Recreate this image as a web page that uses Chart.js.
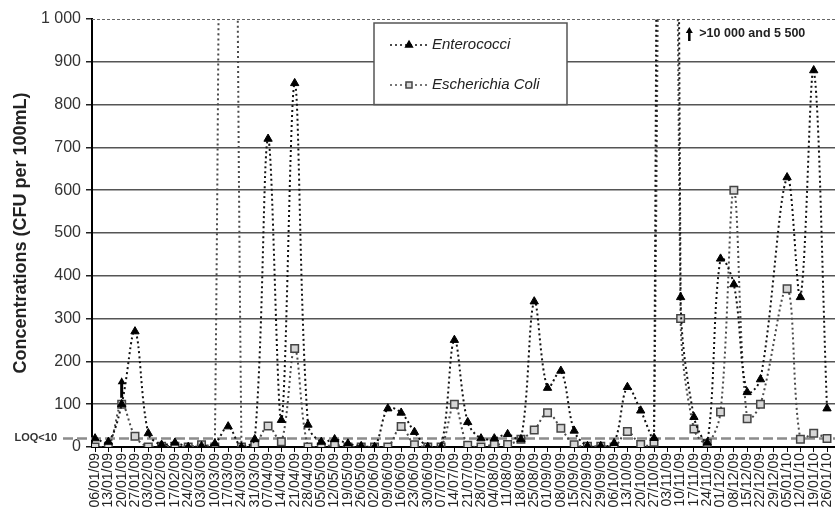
<!DOCTYPE html>
<html>
<head>
<meta charset="utf-8">
<title>Enterococci / Escherichia Coli</title>
<script src="https://cdn.jsdelivr.net/npm/chart.js@4.4.1/dist/chart.umd.min.js"></script>
<style>
	html, body { margin: 0; padding: 0; background: #fff; }
	#wrap { position: relative; width: 835px; height: 514px; }
</style>
</head>
<body>
<div id="wrap"><canvas id="chart"></canvas></div>
<script>
var sampleDates = ['06/01/09', '13/01/09', '20/01/09', '27/01/09', '03/02/09', '10/02/09', '17/02/09', '24/02/09',
	'03/03/09', '10/03/09', '17/03/09', '24/03/09', '31/03/09', '07/04/09', '14/04/09', '21/04/09', '28/04/09',
	'05/05/09', '12/05/09', '19/05/09', '26/05/09', '02/06/09', '09/06/09', '16/06/09', '23/06/09', '30/06/09',
	'07/07/09', '14/07/09', '21/07/09', '28/07/09', '04/08/09', '11/08/09', '18/08/09', '25/08/09', '01/09/09',
	'08/09/09', '15/09/09', '22/09/09', '29/09/09', '06/10/09', '13/10/09', '20/10/09', '27/10/09', '03/11/09',
	'10/11/09', '17/11/09', '24/11/09', '01/12/09', '08/12/09', '15/12/09', '22/12/09', '29/12/09', '05/01/10',
	'12/01/10', '19/01/10', '26/01/10'];

var enterococci = [20, 12, 100, 270, 32, 5, 10, 0,
	2, 8, 48, 0, 18, 720, 63, 850, 52,
	12, 18, 8, 2, 0, 90, 80, 35, 0,
	0, 250, 58, 20, 20, 30, 18, 340, 138,
	178, 38, 2, 2, 9, 140, 85, 21, 10000,
	350, 70, 10, 440, 380, 128, 158, null, 630,
	350, 880, 90];

var escherichiaColi = [0, 0, 100, 25, 0, 2, 2, 0,
	5, 0, 5500, 0, 5, 49, 12, 230, 0,
	0, 5, 0, 0, 0, 0, 48, 5, 0,
	0, 100, 4, 0, 6, 6, 18, 40, 80,
	44, 5, 2, 2, 0, 36, 6, 11, 5500,
	300, 42, 9, 82, 600, 66, 100, null, 370,
	18, 32, 20];

var yTickLabels = ['0', '100', '200', '300', '400', '500', '600', '700', '800', '900', '1 000'];

var loqValue = 20;
var loqLabel = 'LOQ<10';

// values given as "greater than" : small up arrows
var arrowDates = ['20/01/09'];
var arrowFrom = [115];
var arrowTo = [163];

var offScaleDate = '03/11/09';
var offScaleNote = '>10 000 and 5 500';

var FONT = '"Liberation Sans", Arial, sans-serif';

function toPoints(values) {
	return values.map(function (v, i) { return { x: i, y: v }; });
}

function drawUpArrow(ctx, x, yTop, yBottom, shaftW, headW, headH) {
	ctx.save();
	ctx.fillStyle = '#000';
	ctx.fillRect(x - shaftW / 2, yTop + headH - 1, shaftW, yBottom - yTop - headH + 1);
	ctx.beginPath();
	ctx.moveTo(x, yTop);
	ctx.lineTo(x - headW / 2, yTop + headH);
	ctx.lineTo(x + headW / 2, yTop + headH);
	ctx.closePath();
	ctx.fill();
	ctx.restore();
}

/*************************************
*              Extras                *
*************************************/
var extras = {
	id: 'extras',
	beforeDatasetsDraw: function (chart) {
		var ctx = chart.ctx;
		var area = chart.chartArea;
		var y = chart.scales.y;

		ctx.save();
		// dashed top border
		ctx.strokeStyle = '#666';
		ctx.lineWidth = 1;
		ctx.setLineDash([3, 2]);
		ctx.beginPath();
		ctx.moveTo(area.left, area.top + 0.5);
		ctx.lineTo(area.right, area.top + 0.5);
		ctx.stroke();

		// LOQ line
		var ly = y.getPixelForValue(loqValue);
		ctx.strokeStyle = '#8c8c8c';
		ctx.lineWidth = 2.5;
		ctx.setLineDash([10, 4]);
		ctx.beginPath();
		ctx.moveTo(63, ly);
		ctx.lineTo(area.right, ly);
		ctx.stroke();
		ctx.setLineDash([]);

		ctx.fillStyle = '#333';
		ctx.font = 'bold 11px ' + FONT;
		ctx.textAlign = 'right';
		ctx.textBaseline = 'middle';
		ctx.fillText(loqLabel, 57, ly);
		ctx.restore();
	},
	afterDatasetsDraw: function (chart) {
		var ctx = chart.ctx;
		var x = chart.scales.x;
		var y = chart.scales.y;

		for (var i = 0; i < arrowDates.length; i++) {
			var ax = x.getPixelForValue(sampleDates.indexOf(arrowDates[i]));
			drawUpArrow(ctx, ax, y.getPixelForValue(arrowTo[i]), y.getPixelForValue(arrowFrom[i]), 3, 8, 7);
		}

		// note for off-scale values
		var nx = x.getPixelForValue(sampleDates.indexOf(offScaleDate)) + 22;
		drawUpArrow(ctx, nx, 27, 41, 2.5, 7, 6);
		ctx.save();
		ctx.fillStyle = '#222';
		ctx.font = 'bold 12.5px ' + FONT;
		ctx.textAlign = 'left';
		ctx.textBaseline = 'middle';
		ctx.fillText(offScaleNote, nx + 10, 34);
		ctx.restore();

		// legend box
		var top = 23, left = 374, right = 567, bottom = y.getPixelForValue(800);
		ctx.save();
		ctx.fillStyle = '#fff';
		ctx.fillRect(left, top, right - left, bottom - top);
		ctx.strokeStyle = '#555';
		ctx.lineWidth = 1.5;
		ctx.strokeRect(left, top, right - left, bottom - top);

		var rows = [45, 85];
		chart.data.datasets.forEach(function (ds, k) {
			var ry = rows[k];
			ctx.strokeStyle = ds.borderColor;
			ctx.lineWidth = 1.5;
			ctx.setLineDash([2, 3]);
			ctx.beginPath();
			ctx.moveTo(390, ry);
			ctx.lineTo(429, ry);
			ctx.stroke();
			ctx.setLineDash([]);
			ctx.fillStyle = ds.pointBackgroundColor;
			ctx.strokeStyle = ds.pointBorderColor;
			Chart.helpers.drawPoint(ctx, {
				pointStyle: ds.pointStyle,
				radius: ds.pointRadius * 0.8,
				rotation: 0,
				borderWidth: 1
			}, 409, ry);
			ctx.fillStyle = '#222';
			ctx.font = 'italic 15px ' + FONT;
			ctx.textAlign = 'left';
			ctx.textBaseline = 'middle';
			ctx.fillText(ds.label, 432, ry);
		});
		ctx.restore();
	}
};

/*************************************
*                Chart               *
*************************************/
var ctx = document.getElementById('chart').getContext('2d');
var chart = new Chart(ctx, {
	type: 'line',
	data: {
		datasets: [{
			label: 'Enterococci',
			data: toPoints(enterococci),
			borderColor: '#111',
			borderWidth: 2,
			borderDash: [2, 3],
			tension: 0.35,
			spanGaps: true,
			pointStyle: 'triangle',
			pointRadius: 4.8,
			pointBackgroundColor: '#000',
			pointBorderColor: '#000',
			pointBorderWidth: 1
		}, {
			label: 'Escherichia Coli',
			data: toPoints(escherichiaColi),
			borderColor: '#4a4a4a',
			borderWidth: 2,
			borderDash: [2, 3],
			tension: 0.35,
			spanGaps: true,
			pointStyle: 'rect',
			pointRadius: 5.3,
			pointBackgroundColor: '#d6d6d6',
			pointBorderColor: '#444',
			pointBorderWidth: 1.5
		}]
	},
	options: {
		responsive: true,
		maintainAspectRatio: false,
		animation: false,
		layout: { autoPadding: false, padding: { top: 19, left: 0, right: 0, bottom: 0 } },
		plugins: {
			legend: { display: false },
			tooltip: { enabled: false }
		},
		scales: {
			x: {
				type: 'linear',
				min: -0.23,
				max: 55.6,
				afterBuildTicks: function (scale) {
					scale.ticks = sampleDates.map(function (d, i) { return { value: i }; });
				},
				afterFit: function (scale) {
					scale.height = 67;
					scale.paddingLeft = 0;
					scale.paddingRight = 0;
				},
				border: { color: '#000', width: 2 },
				grid: { drawOnChartArea: false, drawTicks: true, tickLength: 5, tickColor: '#000', tickWidth: 1 },
				ticks: {
					autoSkip: false,
					minRotation: 90,
					maxRotation: 90,
					padding: 1,
					color: '#222',
					font: { family: FONT, size: 14 },
					callback: function (v) { return sampleDates[v]; }
				}
			},
			y: {
				min: 0,
				max: 1000,
				afterFit: function (scale) { scale.width = 92; },
				border: { color: '#000', width: 2 },
				grid: {
					color: function (c) { return c.tick && c.tick.value === 1000 ? 'rgba(0,0,0,0)' : '#555'; },
					lineWidth: 1.5,
					tickColor: '#222',
					tickLength: 6
				},
				ticks: {
					stepSize: 100,
					padding: 5,
					color: '#333',
					font: { family: FONT, size: 16 },
					callback: function (v) { return yTickLabels[v / 100]; }
				},
				title: {
					display: true,
					text: 'Concentrations (CFU per 100mL)',
					color: '#222',
					font: { family: FONT, size: 18, weight: 'bold' },
					padding: { top: 10 }
				}
			}
		}
	},
	plugins: [extras]
});
</script>
</body>
</html>
